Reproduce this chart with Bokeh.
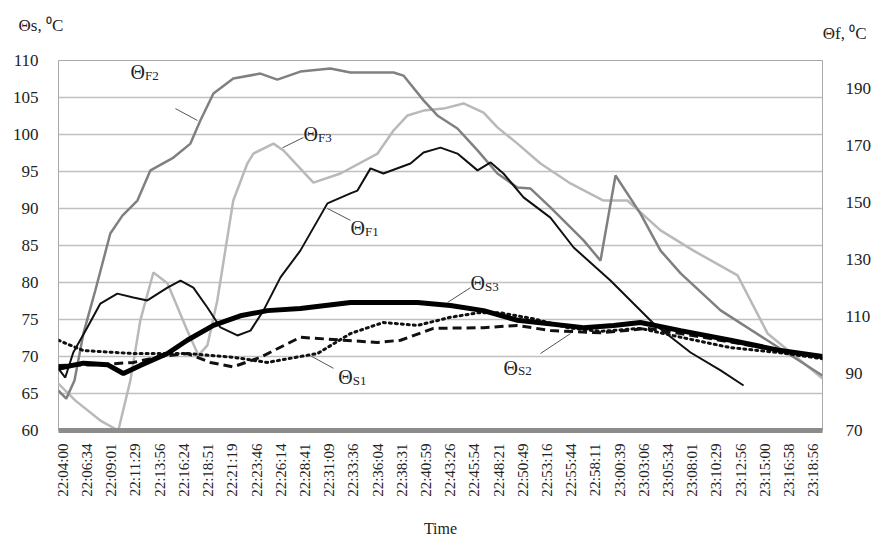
from bokeh.plotting import figure
from bokeh.models import Range1d, LinearAxis, FixedTicker, Label, Title
from bokeh.embed import file_html
from bokeh.resources import INLINE

# ---- category tick labels (evenly spaced on axis) ----
time_labels = ["22:04:00", "22:06:34", "22:09:01", "22:11:29", "22:13:56", "22:16:24",
               "22:18:51", "22:21:19", "22:23:46", "22:26:14", "22:28:41", "22:31:09",
               "22:33:36", "22:36:04", "22:38:31", "22:40:59", "22:43:26", "22:45:54",
               "22:48:21", "22:50:49", "22:53:16", "22:55:44", "22:58:11", "23:00:39",
               "23:03:06", "23:05:34", "23:08:01", "23:10:29", "23:12:56", "23:15:00",
               "23:16:58", "23:18:56"]

# ---- ΘF series (right axis, °C); x = position on time axis (label index) ----
f2_x = [-0.19, 0.14, 0.48, 0.85, 1.34, 1.96, 2.46, 3.08, 3.62, 4.57, 5.27, 5.68, 6.22, 7.04,
        8.16, 8.86, 9.81, 11.05, 11.88, 13.66, 14.07, 14.90, 15.47, 16.30, 17.13, 17.95,
        18.78, 19.32, 20.14, 21.51, 22.21, 22.83, 23.86, 24.69, 25.52, 27.17, 29.11, 31.38]
f2_y = [84.1, 81.2, 87.6, 104.1, 119.2, 139.2, 145.5, 150.8, 161.4, 165.9, 170.8, 178.9, 188.4, 193.7,
        195.4, 193.3, 196.1, 197.2, 195.8, 195.8, 194.7, 186.0, 180.7, 176.1, 168.4, 160.3,
        155.4, 155.0, 148.4, 136.8, 129.7, 159.6, 146.2, 133.2, 125.2, 112.2, 101.6, 89.3]

f3_x = [-0.19, 0.52, 1.55, 2.29, 2.79, 3.20, 3.74, 4.32, 5.14, 5.60, 5.97, 6.38, 7.04, 7.62,
        7.87, 8.70, 9.11, 10.35, 11.47, 13.00, 13.66, 14.24, 14.90, 15.72, 16.55, 17.38,
        17.95, 18.78, 19.73, 20.97, 22.33, 23.32, 24.69, 26.05, 27.87, 29.11, 31.38]
f3_y = [86.5, 80.5, 73.5, 70.0, 87.6, 108.7, 125.5, 121.7, 105.1, 96.4, 99.9, 115.7, 150.8, 163.8,
        167.3, 170.8, 168.4, 157.1, 160.3, 167.3, 175.4, 180.7, 182.4, 183.1, 184.9, 181.7,
        176.5, 170.8, 163.8, 156.8, 150.8, 150.8, 140.3, 133.2, 124.5, 104.1, 88.3]

f1_x = [-0.19, 0.10, 0.43, 1.01, 1.55, 2.25, 2.91, 3.49, 4.32, 4.86, 5.39, 5.97, 6.51, 7.21,
        7.75, 8.29, 8.99, 9.81, 10.93, 11.88, 12.17, 12.71, 13.24, 14.36, 14.90, 15.60,
        16.30, 17.13, 17.67, 18.20, 19.03, 20.14, 21.10, 22.62, 24.40, 25.93, 27.17, 28.12]
f1_y = [91.8, 88.6, 97.4, 106.2, 114.6, 118.1, 116.7, 115.7, 120.2, 122.7, 120.2, 113.2, 106.2, 103.4,
        105.1, 112.2, 123.8, 133.2, 149.8, 153.3, 154.3, 162.1, 160.3, 163.8, 167.7, 169.4,
        167.3, 161.4, 164.2, 160.3, 151.9, 144.8, 134.3, 122.7, 107.6, 97.4, 91.1, 85.8]

# ---- ΘS series (left axis, °C) ----
s3_x = [-0.19, 0.85, 1.84, 2.50, 3.20, 4.32, 5.14, 6.22, 7.33, 8.45, 9.81, 11.88, 14.65, 16.01,
        17.38, 18.78, 21.51, 22.75, 23.86, 25.52, 27.58, 29.65, 31.38]
s3_y = [68.4, 69.1, 68.9, 67.7, 68.8, 70.4, 72.2, 74.2, 75.5, 76.2, 76.5, 77.3, 77.3, 76.9,
        76.2, 74.9, 73.9, 74.2, 74.6, 73.5, 72.2, 70.8, 70.0]

s1_x = [-0.19, 0.85, 2.91, 5.14, 7.04, 8.45, 9.81, 10.52, 11.88, 13.24, 14.65, 16.01, 17.13,
        18.08, 19.44, 20.84, 22.21, 23.86, 25.52, 27.58, 29.65, 31.38]
s1_y = [72.2, 70.8, 70.4, 70.4, 69.9, 69.2, 70.0, 70.4, 73.1, 74.6, 74.2, 75.3, 75.9,
        75.9, 75.1, 73.9, 73.4, 73.8, 72.6, 71.2, 70.5, 69.7]

s2_x = [-0.19, 1.55, 2.91, 4.03, 5.14, 6.09, 7.04, 8.16, 9.81, 11.59, 12.99, 13.95, 15.31,
        17.38, 18.78, 20.14, 22.21, 24.15, 25.52, 28.94, 31.38]
s2_y = [68.8, 68.9, 69.2, 70.0, 70.4, 69.2, 68.6, 69.9, 72.6, 72.2, 71.9, 72.2, 73.8,
        73.9, 74.2, 73.5, 73.2, 73.8, 73.1, 71.2, 69.9]

left_ticks = [60, 65, 70, 75, 80, 85, 90, 95, 100, 105, 110]
right_ticks = [70, 90, 110, 130, 150, 170, 190]

# curve name labels: (sub text, Θ x, Θ y, leader x0, y0, x1, y1) in left-axis data units
curve_names = [
    ("F2", 2.79, 108.4, 4.65, 103.5, 5.56, 101.9),
    ("F3", 9.94, 100.1, 9.07, 98.2, 9.94, 99.6),
    ("F1", 11.88, 87.3, 10.93, 90.0, 11.88, 88.4),
    ("S3", 16.84, 79.9, 15.89, 77.3, 16.84, 79.3),
    ("S1", 11.38, 67.2, 10.23, 70.1, 11.18, 68.4),
    ("S2", 18.20, 68.5, 19.73, 70.4, 20.97, 73.1),
]

SERIF = "Liberation Serif"
INK = "#222222"

p = figure(width=877, height=543, output_backend="svg", toolbar_location=None, title=None,
           x_range=Range1d(-0.18, 31.38), y_range=Range1d(60, 110),
           min_border_left=58, min_border_right=55, min_border_top=60, min_border_bottom=113)
p.extra_y_ranges = {"f": Range1d(70, 200)}

p.background_fill_color = "white"
p.border_fill_color = "white"
p.outline_line_color = "#a8a8a8"
p.outline_line_width = 1

# axis titles at the top (right one inner, left one outer)
t_right = Title(text="Θf, ⁰C", align="right", offset=-44, standoff=35,
                text_font=SERIF, text_font_size="17px", text_font_style="normal", text_color=INK)
t_left = Title(text="Θs, ⁰C", align="left", offset=-40, standoff=-60,
               text_font=SERIF, text_font_size="17px", text_font_style="normal", text_color=INK)
p.add_layout(t_right, "above")
p.add_layout(t_left, "above")

# x axis
xa = p.xaxis[0]
xa.ticker = FixedTicker(ticks=list(range(len(time_labels))))
xa.major_label_overrides = {i: t for i, t in enumerate(time_labels)}
xa.major_label_orientation = 1.5708
xa.major_label_text_font = SERIF
xa.major_label_text_font_size = "15px"
xa.major_label_text_color = INK
xa.major_label_standoff = 7
xa.major_tick_line_color = None
xa.minor_tick_line_color = None
xa.axis_line_color = "#8c8c8c"
xa.axis_line_width = 5
xa.axis_label = "Time"
xa.axis_label_text_font = SERIF
xa.axis_label_text_font_style = "normal"
xa.axis_label_text_font_size = "16px"
xa.axis_label_text_color = INK
xa.axis_label_standoff = 20

# left y axis
ya = p.yaxis[0]
ya.ticker = FixedTicker(ticks=left_ticks)
ya.major_label_text_font = SERIF
ya.major_label_text_font_size = "17px"
ya.major_label_text_color = INK
ya.major_label_standoff = 14
ya.major_tick_line_color = None
ya.minor_tick_line_color = None
ya.axis_line_color = None

# right y axis
ra = LinearAxis(y_range_name="f", ticker=FixedTicker(ticks=right_ticks))
ra.major_label_text_font = SERIF
ra.major_label_text_font_size = "17px"
ra.major_label_text_color = INK
ra.major_label_standoff = 17
ra.major_tick_line_color = None
ra.minor_tick_line_color = None
ra.axis_line_color = None
p.add_layout(ra, "right")

p.xgrid.grid_line_color = None
p.ygrid.grid_line_color = "#c0c0c0"
p.ygrid.grid_line_width = 1.5

# series
p.line(f3_x, f3_y, y_range_name="f", line_color="#b9b9b9", line_width=2.5)
p.line(f2_x, f2_y, y_range_name="f", line_color="#808080", line_width=2.5)
p.line(f1_x, f1_y, y_range_name="f", line_color="#111111", line_width=2)
p.line(s2_x, s2_y, line_color="#111111", line_width=3, line_dash="9 5")
p.line(s1_x, s1_y, line_color="#111111", line_width=3, line_dash="2 4", line_cap="round")
p.line(s3_x, s3_y, line_color="#000000", line_width=5)

# curve name labels with leader lines
for sub, tx, ty, lx0, ly0, lx1, ly1 in curve_names:
    p.segment(x0=[lx0], y0=[ly0], x1=[lx1], y1=[ly1], line_color="#555555", line_width=1)
    p.add_layout(Label(x=tx, y=ty, text="Θ", text_font=SERIF, text_font_size="20px",
                       text_baseline="middle", text_align="left", text_color=INK))
    p.add_layout(Label(x=tx + 0.6, y=ty - 0.45, text=sub, text_font=SERIF, text_font_size="13px",
                       text_baseline="middle", text_align="left", text_color=INK))

open("out.html", "w").write(file_html(p, INLINE))
